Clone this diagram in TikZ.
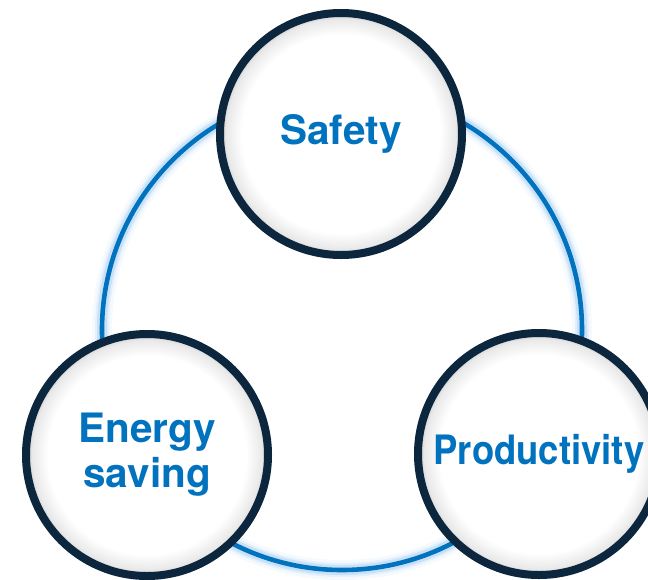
\documentclass[tikz,border=0pt]{standalone}
\usepackage{fontspec}
\newfontfamily\headfont{TeX Gyre Heros}
\definecolor{ringblue}{RGB}{0, 114, 190}
\definecolor{glowblue}{RGB}{120, 180, 235}
\definecolor{navy1}{RGB}{12, 38, 62}
\usepackage{tikz}
\usetikzlibrary{positioning}
\pgfdeclareradialshading{rimshade}{\pgfpoint{0bp}{0bp}}{color(0bp)=(white); color(20.5bp)=(white); color(23.8bp)=(black!9); color(25bp)=(black!24); color(50bp)=(black!24)}

\begin{document}
\begin{tikzpicture}[x=1pt, y=-1pt,
  topic/.style={circle, minimum size=242pt, inner sep=0pt, shading=rimshade, draw=navy1, line width=8pt,
    align=center, text=ringblue, font=\headfont\bfseries\fontsize{40.5}{45}\selectfont}]
  \useasboundingbox (0,0) rectangle (648,579);

  % the ring with its glow
  \coordinate (hub) at (342,330);
  \foreach \w/\o in {20/0.07, 14/0.14, 10/0.25}
    \draw[glowblue, line width=\w pt, opacity=\o] (hub) circle (240);
  \draw[ringblue, line width=4.6pt] (hub) circle (240);

  % the three topics
  \node[topic] (safety) at (341,134) {Safety};
  \node[topic] (energy) at (147,455) {Energy\\saving};
  \node[topic] (prod) at (539,454) {\scalebox{0.9}[1]{Productivity}};
\end{tikzpicture}
\end{document}
